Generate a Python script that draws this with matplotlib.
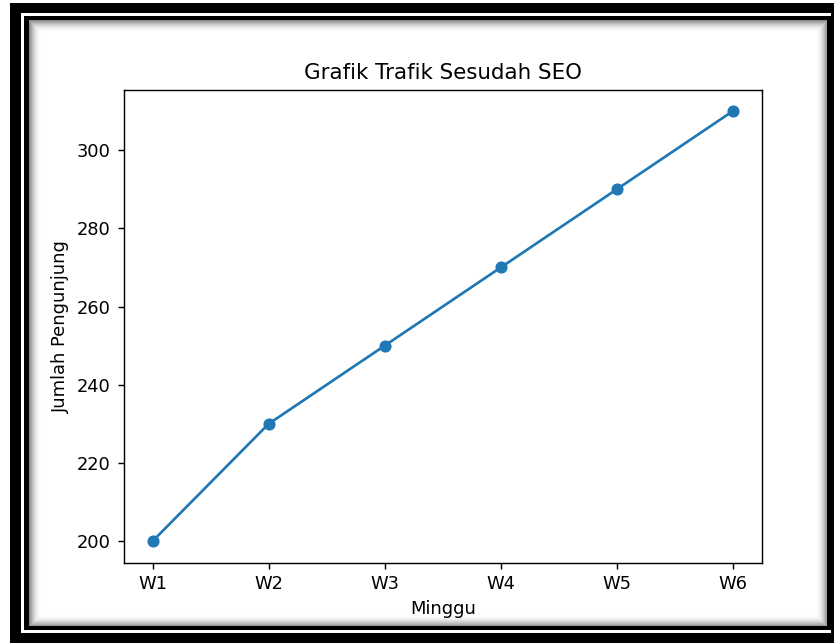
import matplotlib
matplotlib.use('Agg')
import matplotlib.pyplot as plt
from matplotlib.patches import Rectangle

weeks = ['W1', 'W2', 'W3', 'W4', 'W5', 'W6']
visitors = [200, 230, 250, 270, 290, 310]

W, H = 834, 643
s = 1.286  # scale of the screenshot vs default figure

fig = plt.figure(figsize=(W / 100, H / 100), dpi=100)


def px_rect(x0, y0, x1, y1, **kw):
    # rectangle in screenshot pixel coords (origin top-left)
    return Rectangle((x0 / W, 1 - y1 / H), (x1 - x0) / W, (y1 - y0) / H,
                     transform=fig.transFigure, figure=fig, **kw)


# outer black frame
fig.patches.append(px_rect(10, 2.7, 900, 700, facecolor='black', edgecolor='none', zorder=-10))
fig.patches.append(px_rect(20.7, 12.7, 831, 633, facecolor='white', edgecolor='none', zorder=-9))
# inner black line
fig.patches.append(px_rect(24, 15.7, 831, 630, facecolor='black', edgecolor='none', zorder=-8))
fig.patches.append(px_rect(28.5, 20, 827, 625.5, facecolor='white', edgecolor='none', zorder=-7))
# inner shadow
for i in range(12):
    a = 0.45 * (1 - i / 12) ** 2
    fig.patches.append(px_rect(28.5 + i, 20 + i, 827 - i, 625.5 - i, facecolor='none',
                               edgecolor=(0, 0, 0, a), linewidth=0.75, zorder=-6))

ax = fig.add_axes([123.5 / W, 1 - 562.7 / H, (762 - 123.5) / W, (562.7 - 89.5) / H])
ax.plot(weeks, visitors, marker='o', color='#1f77b4', linewidth=1.5 * s, markersize=6 * s)
ax.set_title('Grafik Trafik Sesudah SEO', fontsize=12 * s, pad=6 * s)
ax.set_xlabel('Minggu', fontsize=10 * s, labelpad=4 * s)
ax.set_ylabel('Jumlah Pengunjung', fontsize=10 * s, labelpad=4 * s)
ax.tick_params(labelsize=10 * s, length=3.5 * s, width=0.8 * s, pad=3.5 * s)
for sp in ax.spines.values():
    sp.set_linewidth(0.8 * s)

fig.savefig('out.png', dpi=100)
